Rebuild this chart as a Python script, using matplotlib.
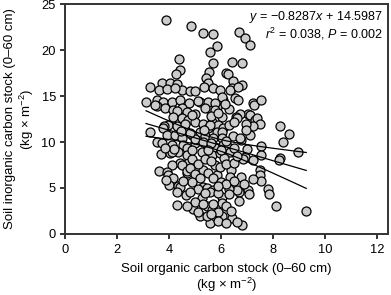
import numpy as np
import matplotlib
matplotlib.use("Agg")
import matplotlib.pyplot as plt

plt.rcParams['font.family'] = ['Liberation Sans', 'DejaVu Sans']
plt.rcParams['mathtext.fontset'] = 'custom'
plt.rcParams['mathtext.rm'] = 'Liberation Sans'
plt.rcParams['mathtext.it'] = 'Liberation Sans:italic'

# soil organic carbon stock (x), soil inorganic carbon stock (y), kg m-2
soc = [3.87, 4.85, 5.32, 5.68, 6.70, 6.92, 7.12, 5.85, 5.58, 4.40, 5.70, 6.41, 6.80, 4.42, 4.26,
       5.54, 5.41, 6.18, 6.28, 5.49, 6.47, 6.80, 3.27, 3.75, 4.04, 4.30, 3.63, 4.49, 4.81, 5.00,
       5.35, 6.41, 6.35, 6.67, 3.91, 4.23, 5.70, 5.96,
       3.12, 3.53, 3.78, 4.10, 4.42, 4.78, 5.19, 5.51, 5.83, 3.53, 3.85, 4.17, 4.49, 4.68, 5.00,
       3.46, 5.13, 5.51, 6.09, 6.03, 6.54, 6.64, 7.24, 7.28, 7.56, 5.77, 7.05, 6.73, 4.30, 5.38, 5.77,
       4.17, 4.49, 6.03, 6.58, 7.12, 7.31, 7.37, 6.60, 7.50, 7.24, 6.96, 4.74, 5.00, 5.32, 5.64,
       5.90, 3.97, 3.81, 3.78, 4.30, 4.62, 5.19, 5.51, 5.83, 6.09, 6.03, 5.58, 3.27, 8.27, 8.63,
       8.40, 3.91, 4.23, 4.49, 4.87, 5.38, 5.70, 6.03, 6.76, 6.45, 6.73, 3.53, 3.72, 4.10, 4.55,
       5.00, 5.45, 5.77, 6.09, 6.28, 7.56, 3.69, 4.04, 4.36, 4.68, 4.68, 5.26, 5.64, 5.96, 6.35,
       6.92, 7.56, 8.97, 8.27, 8.24, 7.22, 6.86, 4.10,
       4.74, 4.42, 4.10, 4.49, 5.77, 5.32, 3.63, 3.94, 3.95, 4.17, 4.68, 4.68, 5.83, 5.96, 6.37,
       7.50, 7.50, 7.56, 7.22, 6.76, 6.35, 4.01, 4.36, 4.42, 5.32, 5.45, 5.70, 5.58, 7.82, 7.86,
       7.05, 7.09, 6.70, 6.60, 6.32, 6.03, 4.65, 5.26, 5.90, 4.30, 4.94, 5.19, 5.58, 5.45, 5.77,
       5.45, 5.64, 6.03, 8.12, 9.28, 6.80, 6.41, 6.06,
       4.90, 5.10, 5.40, 5.60, 6.10, 6.20, 6.50, 4.80, 5.00, 5.20, 5.50, 5.70, 6.00, 6.20, 6.50,
       4.90, 5.10, 5.40, 5.90, 6.30, 4.80, 5.00, 5.30, 5.70, 6.20, 6.40, 5.90, 4.70, 5.10, 5.60,
       6.70, 6.90, 5.00, 5.30, 5.60, 6.20, 4.80, 5.35, 6.30, 6.50, 4.60, 4.90, 5.60, 5.90, 6.30,
       6.15, 4.45, 4.20, 3.85, 4.90, 5.50, 6.00, 6.50, 6.60, 7.00, 7.10, 6.95, 4.55, 4.30, 3.90,
       6.60, 5.90, 6.20]
sic = [23.3, 22.6, 21.9, 21.7, 22.0, 21.3, 20.5, 20.4, 19.8, 19.0, 18.6, 18.7, 18.6, 17.8, 17.4,
       17.6, 17.0, 17.5, 17.4, 16.4, 16.6, 16.2, 16.0, 16.4, 16.4, 16.3, 15.65, 15.7, 15.6, 15.6,
       15.95, 15.9, 15.65, 16.0, 15.76, 15.9, 15.9, 15.65,
       14.4, 14.6, 14.3, 14.4, 14.6, 14.2, 14.4, 13.7, 13.8, 13.9, 13.7, 13.5, 13.7, 13.3, 13.1,
       14.0, 14.46, 14.4, 14.6, 14.9, 14.75, 14.6, 14.2, 14.0, 14.6, 14.2, 13.1, 13.1, 13.4, 13.7, 13.5,
       12.75, 12.6, 12.75, 12.75, 12.9, 12.4, 12.6, 12.6, 12.0, 11.7, 12.0, 12.4, 12.2, 12.0, 12.2,
       11.85, 11.85, 11.7, 11.5, 11.7, 11.3, 11.1, 11.5, 11.1, 11.5, 11.1, 11.8, 11.1, 11.7, 10.9,
       10.0, 10.76, 10.76, 10.4, 10.76, 10.6, 10.4, 10.4, 10.2, 10.65, 10.4, 9.95, 9.85, 9.67, 9.67,
       9.85, 9.67, 9.5, 9.67, 9.5, 9.6, 8.66, 8.77, 8.95, 9.3, 8.6, 8.95, 8.6, 8.77, 8.95,
       8.4, 8.6, 8.95, 8.3, 8.0, 8.0, 8.1, 8.95,
       7.7, 7.7, 7.5, 7.5, 7.5, 7.0, 6.9, 6.7, 6.4, 6.05, 6.6, 6.8, 6.4, 7.3, 7.0,
       7.0, 6.4, 5.8, 5.95, 6.2, 6.2, 5.3, 5.2, 5.1, 5.1, 4.97, 4.8, 4.6, 4.85, 4.35,
       4.8, 4.35, 4.6, 4.8, 4.85, 4.0, 4.2, 3.9, 4.4, 3.2, 2.7, 1.96, 1.15, 1.9, 1.9,
       3.0, 2.6, 3.4, 3.0, 2.5, 1.0, 1.7, 1.9,
       8.1, 7.6, 8.2, 7.9, 8.3, 7.6, 7.7, 7.2, 6.5, 6.1, 6.6, 6.1, 5.7, 5.4, 5.8,
       5.6, 4.9, 4.4, 5.2, 4.3, 4.6, 3.5, 3.3, 3.3, 3.0, 2.5, 2.4, 3.0, 2.4, 2.2,
       3.6, 5.4, 10.3, 10.0, 9.9, 10.1, 11.0, 11.3, 11.9, 12.2, 12.0, 12.9, 12.8, 13.2, 13.6,
       14.1, 11.2, 9.2, 9.3, 9.1, 9.1, 9.1, 9.3, 8.5, 9.2, 10.8, 11.3, 5.8, 4.6, 5.9,
       1.3, 1.4, 1.2]

# regression reported on the figure
slope = -0.8287
intercept = 14.5987
eq_text = '$y$ = \u22120.8287$x$ + 14.5987'
stat_text = '$r^2$ = 0.038, $P$ = 0.002'

x = np.array(soc)
y = np.array(sic)
n = len(x)
xs = np.linspace(x.min(), x.max(), 100)
yfit = intercept + slope * xs
resid = y - (intercept + slope * x)
s = np.sqrt(np.sum(resid ** 2) / (n - 2))
sxx = np.sum((x - x.mean()) ** 2)
half = 1.97 * s * np.sqrt(1.0 / n + (xs - x.mean()) ** 2 / sxx)

fig = plt.figure(figsize=(3.91, 2.95), dpi=100)
ax = fig.add_axes([0.166, 0.207, 0.826, 0.779])

ax.scatter(x, y, s=42, facecolor='#cccccc', edgecolor='black', linewidth=0.9, zorder=2)
ax.plot(xs, yfit, color='black', lw=0.9, zorder=3)
ax.plot(xs, yfit + half, color='black', lw=0.9, zorder=3)
ax.plot(xs, yfit - half, color='black', lw=0.9, zorder=3)

ax.set_xlim(0, 12.42)
ax.set_ylim(0, 25)
ax.set_xticks(np.arange(0, 13, 2))
ax.set_yticks(np.arange(0, 26, 5))
for sp in ax.spines.values():
    sp.set_linewidth(1.4)
    sp.set_color('#333333')
ax.tick_params(direction='out', length=3.5, width=1.4, color='#333333', labelsize=9.3, pad=3)
ax.tick_params(axis='x', pad=4)

ax.set_xlabel('Soil organic carbon stock (0\u201360 cm)\n(kg \u00d7 m$^{-2}$)', fontsize=9.5, labelpad=5,
              linespacing=1.05)
ax.set_ylabel('Soil inorganic carbon stock (0\u201360 cm)\n(kg \u00d7 m$^{-2}$)', fontsize=9.5, labelpad=4,
              linespacing=1.1)

ax.text(0.985, 0.98, eq_text, transform=ax.transAxes, ha='right', va='top', fontsize=9)
ax.text(0.985, 0.905, stat_text, transform=ax.transAxes, ha='right', va='top', fontsize=9)

fig.savefig('out.png', dpi=100)
